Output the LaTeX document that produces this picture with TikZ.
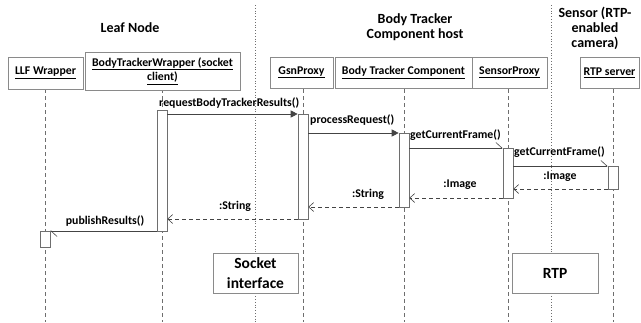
\documentclass[tikz,border=0pt]{standalone}
\usepackage{fontspec}
\setmainfont{Carlito}
\usetikzlibrary{arrows.meta}
\definecolor{linec}{HTML}{444444}
\definecolor{boxc}{HTML}{8A8A8A}
\definecolor{lifec}{HTML}{6E6E6E}
\tikzset{
  x=1pt,y=-1pt,
  hdr/.style={draw=boxc,fill=white,line width=0.6pt,font=\fontsize{11.8}{14.5}\selectfont\bfseries,align=center,inner sep=0pt},
  title/.style={font=\fontsize{14}{15}\selectfont\bfseries,align=center,inner sep=0pt},
  act/.style={draw=lifec,fill=white,line width=0.6pt},
  life/.style={draw=lifec,line width=0.6pt,dash pattern=on 4pt off 3pt},
  sep/.style={draw=lifec,line width=0.6pt,dash pattern=on 0.8pt off 2pt},
  sync/.style={draw=linec,line width=0.7pt,-{Triangle[length=7pt,width=7pt]}},
  async/.style={draw=linec,line width=0.7pt,-{Straight Barb[harpoon,length=6pt,width=11pt,line width=0.6pt]}},
  ret/.style={draw=linec,line width=0.6pt,dash pattern=on 4pt off 3pt,-{Straight Barb[length=5pt,width=9pt,line width=0.6pt]}},
  lbl/.style={font=\fontsize{11.8}{14}\selectfont\bfseries,inner sep=0pt},
  ifc/.style={draw=boxc,fill=white,line width=0.6pt,font=\fontsize{15.5}{20}\selectfont\bfseries,align=center,inner sep=0pt}
}
\begin{document}
\begin{tikzpicture}
\useasboundingbox (0,0) rectangle (641,322);
% separators
\coordinate (s1t) at (255,5); \coordinate (s1b) at (255,322);
\coordinate (s2t) at (551,5); \coordinate (s2b) at (551,322);
\draw[sep] (s1t) -- (s1b);
\draw[sep] (s2t) -- (s2b);
% lifelines
\foreach \n/\x in {llf/45,btw/162,gsn/303,btc/404,spx/508,rtp/613}{
  \coordinate (\n t) at (\x,89);
  \coordinate (\n b) at (\x,322);
  \draw[life] (\n t) -- (\n b);
}
% titles
\node[title] (tleaf) at (130,28) {Leaf Node};
\node[title] (tbody) at (415,27) {Body Tracker\\Component host};
\node[title] (tsens) at (595,28) {Sensor (RTP-\\enabled\\camera)};
% headers
\node[hdr,minimum width=75,minimum height=32] (hllf) at (45.5,73) {\underline{LLF Wrapper}};
\node[hdr,minimum width=155,minimum height=38] (hbtw) at (162.5,71) {\underline{BodyTrackerWrapper (socket}\\\underline{client)}};
\node[hdr,minimum width=63,minimum height=31] (hgsn) at (301.5,72.5) {\underline{GsnProxy}};
\node[hdr,minimum width=137,minimum height=31] (hbtc) at (403.5,72.5) {\underline{Body Tracker Component}};
\node[hdr,minimum width=75,minimum height=31] (hspx) at (509.5,72.5) {\underline{SensorProxy}};
\node[hdr,minimum width=59,minimum height=31] (hrtp) at (609.5,72.5) {\underline{RTP server}};
% activations
\node[act,minimum width=10,minimum height=121,inner sep=0pt] (abtw) at (162,170.5) {};
\node[act,minimum width=10,minimum height=105,inner sep=0pt] (agsn) at (303,166.5) {};
\node[act,minimum width=10,minimum height=74,inner sep=0pt] (abtc) at (404,170) {};
\node[act,minimum width=10,minimum height=50,inner sep=0pt] (aspx) at (508,173) {};
\node[act,minimum width=10,minimum height=23,inner sep=0pt] (artp) at (613,177.5) {};
\node[act,minimum width=10,minimum height=16,inner sep=0pt] (allf) at (45,239) {};
% messages
\draw[sync] (abtw.east |- 0,114) -- (agsn.west |- 0,114);
\node[lbl,anchor=west] (l1) at (159,103) {requestBodyTrackerResults()};
\draw[sync] (agsn.east |- 0,133) -- (abtc.west |- 0,133);
\node[lbl,anchor=west] (l2) at (310,120) {processRequest()};
\draw[async] (abtc.east |- 0,148) -- (aspx.west |- 0,148);
\node[lbl,anchor=west] (l3) at (410,135) {getCurrentFrame()};
\draw[async] (aspx.east |- 0,166) -- (artp.west |- 0,166);
\node[lbl,anchor=west] (l4) at (514,152) {getCurrentFrame()};
\draw[ret] (artp.west |- 0,189) -- (aspx.east |- 0,189);
\node[lbl] (l5) at (560,177) {:Image};
\draw[ret] (aspx.west |- 0,198) -- (abtc.east |- 0,198);
\node[lbl] (l6) at (460,185) {:Image};
\draw[ret] (abtc.west |- 0,207) -- (agsn.east |- 0,207);
\node[lbl] (l7) at (368,194) {:String};
\draw[ret] (agsn.west |- 0,219) -- (abtw.east |- 0,219);
\node[lbl] (l8) at (235,206) {:String};
\draw[async] (abtw.west |- 0,231) -- (allf.east |- 0,231);
\node[lbl] (l9) at (105,221) {publishResults()};
% interface boxes
\node[ifc,minimum width=85,minimum height=40] (sock) at (255.5,273) {Socket\\interface};
\node[ifc,minimum width=86,minimum height=40] (rtpb) at (555,273) {RTP};
\end{tikzpicture}
\end{document}
